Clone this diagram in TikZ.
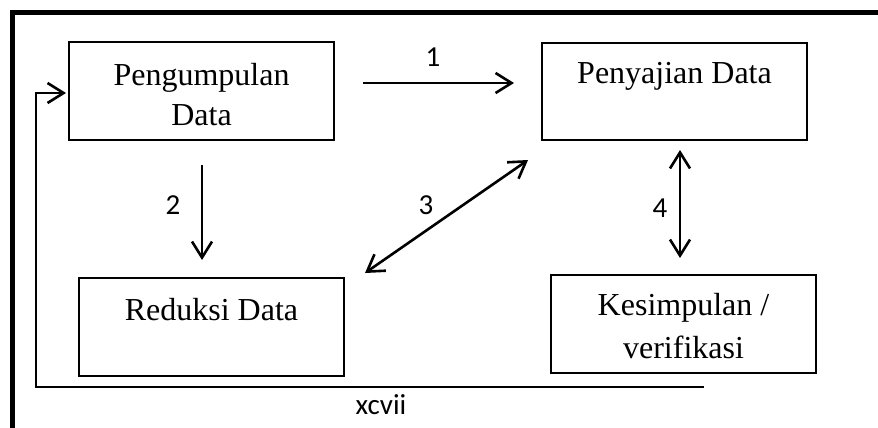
\documentclass[tikz,border=0pt]{standalone}
\usepackage{fontspec}
\setmainfont{Liberation Serif}
\newfontfamily\labfont{Carlito}
\usetikzlibrary{arrows.meta}
\begin{document}
\begin{tikzpicture}[x=1pt,y=-1pt,
  box/.style={draw, line width=2pt, inner sep=0pt, rectangle, minimum width=265pt, minimum height=98pt},
  main/.style={font=\fontsize{32}{40}\selectfont, anchor=base, inner sep=0pt},
  lab/.style={font=\labfont\fontsize{29}{33}\selectfont, inner sep=0pt},
  barb/.tip={Straight Barb[length=16pt,width=20pt]},
  arr/.style={line width=2.6pt, -barb},
  darr/.style={line width=2.6pt, barb-barb}]
\useasboundingbox (0,0) rectangle (878,428);
% outer frame
\draw[line width=5pt] (12,428) -- (12,13) -- (878,13);
% boxes
\node[box] (peng) at (201.5,91) {};
\node[box, minimum height=97pt] (peny) at (674.5,91.5) {};
\node[box] (redu) at (211.5,327) {};
\node[box] (kesi) at (683.5,324) {};
% texts
\node[main] (t1a) at (201.5,85) {Pengumpulan};
\node[main] (t1b) at (201.5,125) {Data};
\node[main] (t2) at (674.5,84) {Penyajian Data};
\node[main] (t3) at (211.5,320) {Reduksi Data};
\node[main] (t4a) at (683.5,315) {Kesimpulan /};
\node[main] (t4b) at (683.5,358) {verifikasi};
% arrow end points
\coordinate (a1s) at (363,83);
\coordinate (a1e) at (514,83);
\coordinate (a2s) at (202,165);
\coordinate (a2e) at (202,260);
\coordinate (a3s) at (365,273);
\coordinate (a3e) at (528,160);
\coordinate (a4s) at (680,150);
\coordinate (a4e) at (680,258);
\coordinate (fbs) at (704,387);
\coordinate (fbc1) at (36,387);
\coordinate (fbc2) at (36,93);
\coordinate (fbe) at (66,93);
% arrows
\draw[arr] (a1s) -- (a1e);
\draw[arr] (a2s) -- (a2e);
\draw[darr] (a3s) -- (a3e);
\draw[darr] (a4s) -- (a4e);
\draw[arr] (fbs) -- (fbc1) -- (fbc2) -- (fbe);
% labels
\node[lab] (l1) at (433,57) {1};
\node[lab] (l2) at (173,205) {2};
\node[lab] (l3) at (426,205) {3};
\node[lab] (l4) at (660,208) {4};
\node[lab] (pg) at (381,405) {xcvii};
\end{tikzpicture}
\end{document}
